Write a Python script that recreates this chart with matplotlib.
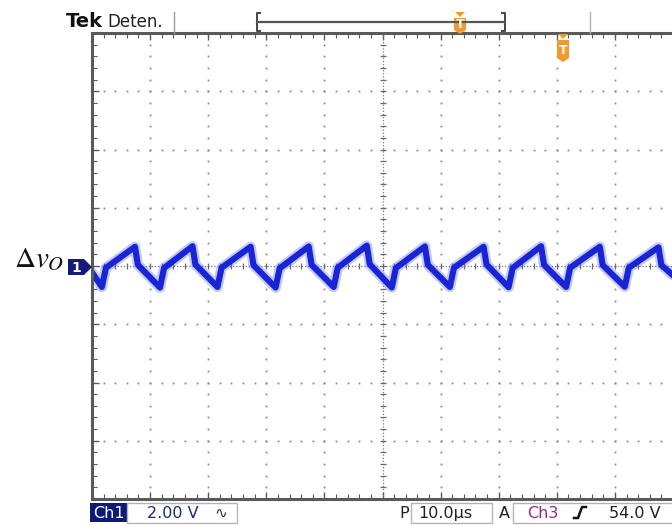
import numpy as np
import matplotlib
matplotlib.use("Agg")
import matplotlib.pyplot as plt
from matplotlib.patches import Rectangle, Polygon

plt.rcParams['mathtext.fontset'] = 'stix'
plt.rcParams['font.family'] = ['DejaVu Sans']

# scope settings (from the status bar)
us_per_div = 10.0
volts_per_div = 2.0
n_xdiv, n_ydiv = 10, 8

# corner points of the ripple trace
t_us = [-50.0,
        -48.3, -47.6,
        -42.6, -42.1, -38.3, -37.6,
        -32.7, -32.2, -28.4, -27.7,
        -22.7, -22.2, -18.4, -17.7,
        -12.7, -12.2, -8.4, -7.7,
        -2.7, -2.2, 1.6, 2.3,
        7.3, 7.8, 11.6, 12.3,
        17.4, 17.9, 21.7, 22.4,
        27.3, 27.8, 31.6, 32.3,
        37.4, 37.9, 41.7, 42.4,
        47.5, 48.0, 50.0]
v_out = [-0.22,
         -0.72, -0.06,
         0.66, 0.04, -0.74, -0.07,
         0.68, 0.05, -0.72, -0.06,
         0.66, 0.03, -0.74, -0.08,
         0.67, 0.04, -0.72, -0.06,
         0.70, 0.06, -0.74, -0.07,
         0.67, 0.04, -0.72, -0.06,
         0.66, 0.05, -0.73, -0.07,
         0.68, 0.04, -0.72, -0.06,
         0.66, 0.03, -0.71, -0.06,
         0.64, 0.03, -0.32]

# status bar texts
top_left = ("Tek", "Deten.")
ch1_scale = "2.00 V"
timebase = "10.0µs"
trig_src, trig_level = "Ch3", "54.0 V"

W, H = 672, 525
fig = plt.figure(figsize=(W / 100, H / 100), dpi=100)
fig.patch.set_facecolor("white")

# graticule area in pixels
gl, gr, gt, gb = 92, 673, 33, 499
ax = fig.add_axes([gl / W, 1 - gb / H, (gr - gl) / W, (gb - gt) / H])
xh = n_xdiv * us_per_div / 2
yh = n_ydiv * volts_per_div / 2
ax.set_xlim(-xh, xh)
ax.set_ylim(-yh, yh)

frame = "#5a5a5a"
for side in ("top", "left", "bottom"):
    ax.spines[side].set_color(frame)
    ax.spines[side].set_linewidth(2.2)
ax.spines["right"].set_visible(False)

ax.set_xticks(np.arange(-xh, xh + 0.01, us_per_div))
ax.set_xticks(np.arange(-xh, xh + 0.01, us_per_div / 5), minor=True)
ax.set_yticks(np.arange(-yh, yh + 0.01, volts_per_div))
ax.set_yticks(np.arange(-yh, yh + 0.01, volts_per_div / 5), minor=True)
ax.tick_params(which="both", direction="in", top=True, bottom=True, left=True,
               right=False, labelbottom=False, labelleft=False, color=frame)
ax.tick_params(which="major", length=5, width=1.0)
ax.tick_params(which="minor", length=3.5, width=0.8)

# dotted graticule
dot = "#8a8a8a"
ys = np.arange(-yh, yh + 0.01, volts_per_div / 5)
xs = np.arange(-xh, xh + 0.01, us_per_div / 5)
for gx in np.arange(-xh + us_per_div, xh, us_per_div):
    if abs(gx) < 1e-9:
        continue
    ax.plot(np.full_like(ys, gx), ys, ls="none", marker="s", ms=1.3, mew=0, color=dot)
for gy in np.arange(-yh + volts_per_div, yh, volts_per_div):
    if abs(gy) < 1e-9:
        continue
    ax.plot(xs, np.full_like(xs, gy), ls="none", marker="s", ms=1.3, mew=0, color=dot)

# center cross with tick marks
ax.axhline(0, color="#7a7a7a", lw=0.9, ls=(0, (1, 1.5)))
ax.axvline(0, color="#7a7a7a", lw=0.9, ls=(0, (1, 1.5)))
ax.plot(xs, np.zeros_like(xs), ls="none", marker="|", ms=4.5, mew=0.9, color="#6a6a6a")
ax.plot(np.zeros_like(ys), ys, ls="none", marker="_", ms=4.5, mew=0.9, color="#6a6a6a")

# trace: soft halo plus solid core
ax.plot(t_us, v_out, color="#5566f4", lw=7.5, alpha=0.35,
        solid_joinstyle="round", solid_capstyle="round")
ax.plot(t_us, v_out, color="#1824d6", lw=4.4,
        solid_joinstyle="round", solid_capstyle="round")

# overlay for screen annotations, pixel coordinates
ov = fig.add_axes([0, 0, 1, 1])
ov.set_xlim(0, W)
ov.set_ylim(H, 0)
ov.axis("off")
ov.patch.set_alpha(0)

ov.text(66, 27, top_left[0], fontsize=14, fontweight="bold", color="#111111")
ov.text(107, 27, top_left[1], fontsize=12, color="#222222")
ov.plot([174, 174], [12, 33], color="#9a9a9a", lw=1)
ov.plot([590, 590], [12, 33], color="#b0b0b0", lw=1)

# record view bracket
ov.plot([260, 257, 257, 260], [13, 13, 31, 31], color="#444444", lw=1.4)
ov.plot([502, 505, 505, 502], [13, 13, 31, 31], color="#444444", lw=1.4)
ov.plot([257, 505], [22, 22], color="#555555", lw=1.6)

orange = "#f29a2e"


def t_marker(cx, top, h):
    w = 6
    ov.add_patch(Polygon([(cx - 5, top), (cx + 5, top), (cx, top + 5)],
                         closed=True, color=orange, lw=0))
    y0 = top + 6
    ov.add_patch(Polygon([(cx - w, y0), (cx + w, y0), (cx + w, y0 + h - 4),
                          (cx, y0 + h), (cx - w, y0 + h - 4)],
                         closed=True, color=orange, lw=0))
    ov.text(cx, y0 + h / 2 - 1, "T", fontsize=9, fontweight="bold",
            color="white", ha="center", va="center")


t_marker(460, 12, 16)
t_marker(563, 34, 22)

# channel 1 marker and label
navy = "#141a7c"
ov.add_patch(Rectangle((68, 259), 16, 16, color=navy, lw=0))
ov.add_patch(Polygon([(84, 259), (84, 275), (92, 267)], closed=True, color=navy, lw=0))
ov.text(76, 267.5, "1", fontsize=10, fontweight="bold", color="white",
        ha="center", va="center")
ov.text(64, 267, r"$\Delta v_O$", fontsize=21, ha="right", va="baseline", color="#111111")

# bottom status bar
box_edge = "#b4b4b4"
ov.add_patch(Rectangle((90, 503), 37, 19, color="#0c1a7a", lw=0))
ov.text(108.5, 518, "Ch1", fontsize=11.5, color="white", ha="center", va="baseline")
ov.add_patch(Rectangle((127, 503), 110, 20, fill=False, ec=box_edge, lw=1))
ov.text(147, 518, ch1_scale, fontsize=11.5, color="#1c2a78", va="baseline")
ov.text(214, 518, "∿", fontsize=11, color="#1c2a78", va="baseline")

ov.text(399, 518, "P", fontsize=11.5, color="#222222", va="baseline")
ov.add_patch(Rectangle((411, 503), 81, 20, fill=False, ec=box_edge, lw=1))
ov.text(418, 518, timebase, fontsize=11.5, color="#222222", va="baseline")

ov.text(499, 518, "A", fontsize=11.5, color="#222222", va="baseline")
ov.add_patch(Rectangle((513, 503), 170, 20, fill=False, ec=box_edge, lw=1))
ov.text(527, 518, trig_src, fontsize=11.5, color="#8b2c8f", va="baseline")
ov.plot([574, 578, 582, 586], [518, 518, 507, 507], color="#111111", lw=1.8)
ov.text(609, 518, trig_level, fontsize=11.5, color="#222222", va="baseline")

fig.savefig("out.png", dpi=100, facecolor="white")
